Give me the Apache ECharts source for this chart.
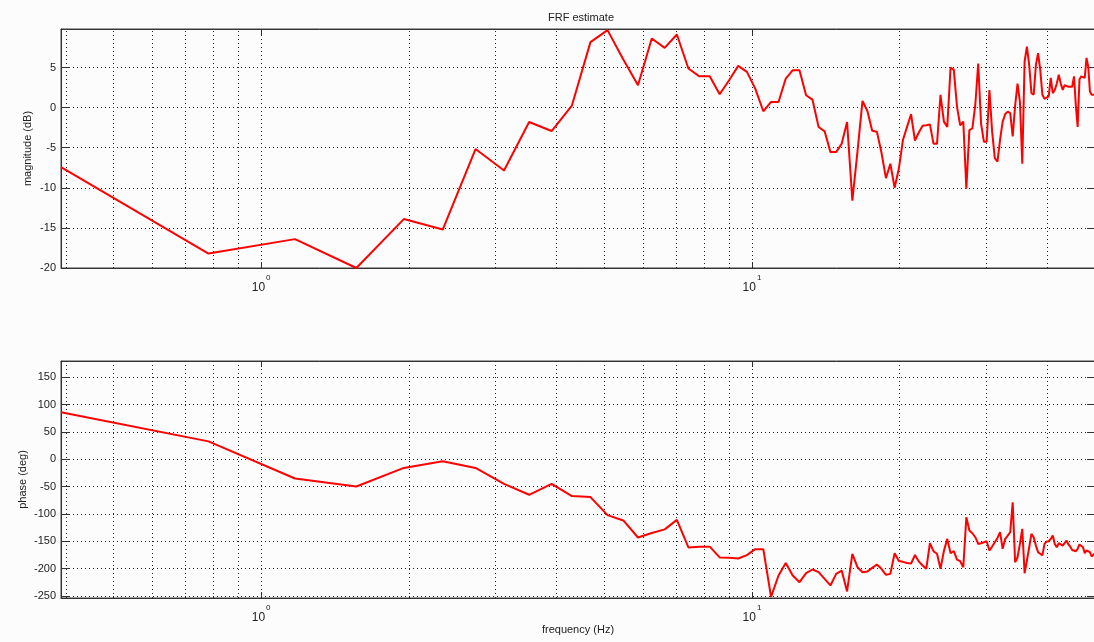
<!DOCTYPE html>
<html>
<head>
<meta charset="utf-8">
<script src="https://cdn.jsdelivr.net/npm/echarts@6/dist/echarts.min.js"></script>
<style>
html,body{margin:0;padding:0;background:#fdfcfd;overflow:hidden;}
#chart{width:1094px;height:642px;}
</style>
</head>
<body>
<div id="chart"></div>
<script>
// FFT bin frequencies (Hz)
const freq = [0.391,0.781,1.172,1.563,1.953,2.344,2.734,3.125,3.516,3.906,4.297,4.688,5.078,5.469,5.859,6.25,6.641,7.031,7.422,7.813,8.203,8.594,8.984,9.375,9.766,10.156,10.547,10.938,11.328,11.719,12.109,12.5,12.891,13.281,13.672,14.063,14.453,14.844,15.234,15.625,16.016,16.406,16.797,17.188,17.578,17.969,18.359,18.75,19.141,19.531,19.922,20.313,20.703,21.094,21.484,21.875,22.266,22.656,23.047,23.438,23.828,24.219,24.609,25,25.391,25.781,26.172,26.563,26.953,27.344,27.734,28.125,28.516,28.906,29.297,29.688,30.078,30.469,30.859,31.25,31.641,32.031,32.422,32.813,33.203,33.594,33.984,34.375,34.766,35.156,35.547,35.938,36.328,36.719,37.109,37.5,37.891,38.281,38.672,39.063,39.453,39.844,40.234,40.625,41.016,41.406,41.797,42.188,42.578,42.969,43.359,43.75,44.141,44.531,44.922,45.313,45.703,46.094,46.484,46.875,47.266,47.656,48.047,48.438,48.828,49.219,49.609,50];

// magnitude (dB)
const magnitude = [-7.43,-18.2,-16.4,-20.0,-13.9,-15.2,-5.17,-7.84,-1.8,-2.92,0.25,8.16,9.66,6.0,2.79,8.62,7.45,9.12,4.87,3.9,3.9,1.66,3.41,5.2,4.45,2.37,-0.46,0.7,0.7,3.62,4.66,4.66,1.54,1.0,-2.42,-2.96,-5.55,-5.55,-4.5,-1.8,-11.6,-5.5,0.83,-0.42,-2.9,-3.0,-5.6,-8.8,-7.0,-10.0,-7.6,-4.0,-2.4,-0.83,-4.1,-3.1,-2.25,-2.2,-2.1,-4.5,-4.5,1.6,-1.75,-2.4,5.0,4.7,0.1,-2.2,-1.75,-10.1,-2.8,-2.6,0.33,5.5,-2.0,-4.25,-4.25,2.2,-3.0,-6.3,-6.75,-4.0,-1.75,-0.8,-0.5,-0.7,-3.6,0.25,3.0,0.7,-7.0,5.75,7.6,5.3,1.8,1.6,5.3,6.8,4.7,1.6,1.1,1.25,1.4,3.7,1.8,2.2,3.0,4.1,3.0,2.2,2.8,2.6,2.6,2.75,2.6,3.9,0.25,-2.4,3.5,3.9,3.75,3.7,6.2,5.1,2.0,1.6,1.5,1.6];

// phase (deg)
const phase = [86.2,32.8,-35.2,-49.8,-15.8,-3.6,-15.8,-45,-65,-45,-67.4,-69.2,-102.3,-112,-143.2,-135,-128.3,-111,-161.5,-160.3,-160,-179.7,-180.3,-181.6,-175.5,-164.5,-164.6,-252,-212.8,-190,-212.8,-225,-208.5,-201.8,-206.7,-219,-231,-209.8,-203.7,-242,-173.2,-197.6,-206.7,-205.5,-198.8,-192.7,-200.6,-211.6,-209.8,-172,-186.3,-187.8,-189.8,-191,-175.3,-187,-194.5,-200.6,-153.7,-168.3,-173,-200.6,-168,-145.7,-172,-168,-183.6,-186.6,-197.6,-106,-130.5,-135.4,-142.7,-155,-153.7,-152,-150,-167,-159.8,-152,-144,-133.5,-164,-145.7,-139.7,-133.5,-78.6,-188.5,-179.3,-155,-127.5,-208.6,-185.4,-161,-136.6,-142.7,-158,-170,-173,-176,-155,-150.6,-150,-145.7,-139.7,-155,-161,-153.7,-156,-158,-155,-148.8,-156,-160,-166,-168.3,-168.3,-164,-156,-156.7,-161,-172,-167,-164,-170,-178,-176,-172];

// log-axis grid lines (Hz) and labelled decades
const xGridFreqs = [0.4,0.5,0.6,0.7,0.8,0.9,1,2,3,4,5,6,7,8,9,10,20,30,40];
const xDecades = [1, 10];
const xDecadeExponents = ['0', '1'];

const FONT = 'Liberation Sans';
const dotted = {type:[1,3], color:'#222', width:1};

function decadeLabel(v){
  for (let i=0;i<xDecades.length;i++){
    if (Math.abs(v - xDecades[i]) < 1e-6*xDecades[i]) return '{m|10}{e|' + xDecadeExponents[i] + '}';
  }
  return '';
}

function xAx(grid, pos, labels, name){
  return {
    type:'log', logBase:10, gridIndex:grid, position:pos,
    min:freq[0], max:freq[freq.length-1],
    axisLine:{show:true, onZero:false, lineStyle:{color:'#333', width:1}},
    axisTick:{show:true, inside:true, length:6, lineStyle:{color:'#333'}},
    splitLine:{show:false},
    axisLabel:{show:labels, formatter:decadeLabel, margin:6, fontFamily:FONT,
      rich:{m:{fontSize:12, fontFamily:FONT, color:'#222', lineHeight:20, verticalAlign:'bottom'},
            e:{fontSize:8, fontFamily:FONT, color:'#222', lineHeight:20, verticalAlign:'top', padding:[0,0,6,1]}}},
    name:name || '', nameLocation:'middle', nameGap:26, nameMoveOverlap:false,
    nameTextStyle:{fontFamily:FONT, fontSize:11, color:'#222'}
  };
}

function yAx(grid, pos, min, max, split, labels, name, gap){
  return {
    type:'value', gridIndex:grid, position:pos, min:min, max:max, splitNumber:split,
    axisLine:{show:true, onZero:false, lineStyle:{color:'#333', width:1}},
    axisTick:{show:true, inside:true, length:8, lineStyle:{color:'#333'}},
    splitLine:{show:labels, lineStyle:dotted},
    axisLabel:{show:labels, fontFamily:FONT, fontSize:11, color:'#222', margin:5,
      showMaxLabel:false, showMinLabel: (min % 5 === 0) },
    name:name || '', nameLocation:'middle', nameGap:gap || 30, nameMoveOverlap:false,
    nameTextStyle:{fontFamily:FONT, fontSize:11, color:'#222'}
  };
}

const magData = freq.map((f,i)=>[f, magnitude[i]]);
const phaseData = freq.map((f,i)=>[f, phase[i]]);
const gridMarks = xGridFreqs.map(v=>({xAxis:v}));

const option = {
  backgroundColor:'#fdfcfd',
  animation:false,
  title:{text:'FRF estimate', left:543, top:7,
    textStyle:{fontFamily:FONT, fontSize:11, fontWeight:'normal', color:'#222'}},
  grid:[
    {left:61, right:-1, top:29, height:239, outerBoundsMode:'none', containLabel:false, show:true, borderColor:'#444', borderWidth:1, backgroundColor:'transparent'},
    {left:61, right:-1, top:361, height:237, outerBoundsMode:'none', containLabel:false, show:true, borderColor:'#444', borderWidth:1, backgroundColor:'transparent'}
  ],
  xAxis:[
    xAx(0,'bottom',true),
    xAx(1,'bottom',true,'frequency (Hz)'),
    xAx(0,'top',false),
    xAx(1,'top',false)
  ],
  yAxis:[
    yAx(0,'left',-20,9.8,6,true,'magnitude (dB)',28),
    yAx(1,'left',-254,180,9,true,'phase (deg)',33),
    yAx(0,'right',-20,9.8,6,false),
    yAx(1,'right',-254,180,9,false)
  ],
  series:[
    {type:'line', xAxisIndex:0, yAxisIndex:0, data:[], z:1,
      markLine:{silent:true, symbol:'none', label:{show:false}, lineStyle:dotted, animation:false, data:gridMarks}},
    {type:'line', xAxisIndex:1, yAxisIndex:1, data:[], z:1,
      markLine:{silent:true, symbol:'none', label:{show:false}, lineStyle:dotted, animation:false, data:gridMarks}},
    {type:'line', xAxisIndex:0, yAxisIndex:0, data:magData, showSymbol:false, z:5,
      lineStyle:{color:'#ff0000', width:2}, itemStyle:{color:'#ff0000'}},
    {type:'line', xAxisIndex:1, yAxisIndex:1, data:phaseData, showSymbol:false, z:5,
      lineStyle:{color:'#ff0000', width:2}, itemStyle:{color:'#ff0000'}}
  ]
};

const chart = echarts.init(document.getElementById('chart'), null, {renderer:'canvas'});
chart.setOption(option);
</script>
</body>
</html>
